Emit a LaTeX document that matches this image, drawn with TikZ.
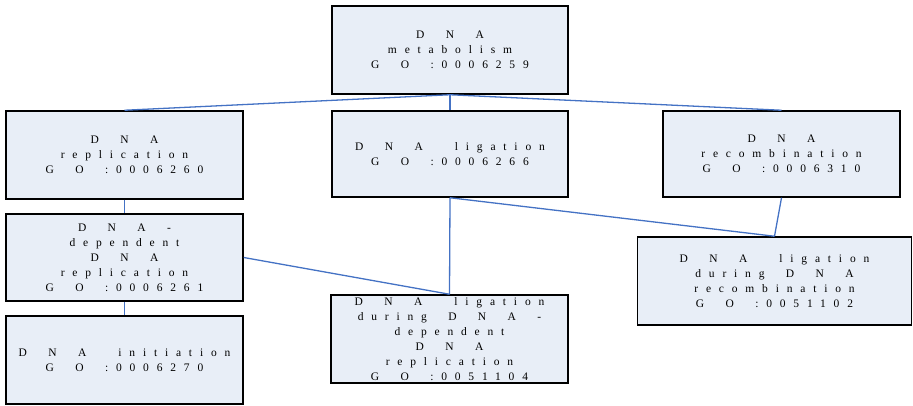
\documentclass[tikz,border=0pt]{standalone}
\usepackage{fontspec}
\setmainfont{Liberation Serif}[LetterSpace=68]
\definecolor{boxfill}{RGB}{232,238,247}
\definecolor{linkblue}{RGB}{68,114,196}
\newcommand\dnaw{D\ \ N\ \ A}
\newcommand\gow{G\ \ O\ \ }
\begin{document}
\begin{tikzpicture}[x=1pt,y=-1pt,
  gobox/.style={draw=black, line width=1.5pt, fill=boxfill, align=center,
    inner sep=0pt, font=\fontsize{11.5}{15}\selectfont},
  link/.style={draw=linkblue, line width=1.3pt}]
\useasboundingbox (0,0) rectangle (913,406);
\node[gobox, minimum width=236, minimum height=88] (top) at (450,50)
  {\dnaw\\metabolism\\\gow:0006259};
\node[gobox, minimum width=237, minimum height=88] (rep) at (124.5,155)
  {\dnaw\\replication\\\gow:0006260};
\node[gobox, minimum width=236, minimum height=86] (lig) at (450,154)
  {\dnaw\ \ \ ligation\\\gow:0006266};
\node[gobox, minimum width=237, minimum height=86] (rec) at (781.5,154)
  {\dnaw\\recombination\\\gow:0006310};
\node[gobox, minimum width=237, minimum height=87] (dep) at (124.5,257.5)
  {\dnaw\ \ -\\dependent\\\dnaw\\replication\\\gow:0006261};
\node[gobox, minimum width=237, minimum height=88] (init) at (124.5,360)
  {\dnaw\ \ \ initiation\\\gow:0006270};
\node[gobox, minimum width=237, minimum height=88] (ldep) at (449.5,339)
  {\dnaw\ \ \ ligation\\during\ \ \dnaw\ \ -\\dependent\\\dnaw\\replication\\\gow:0051104};
\node[gobox, minimum width=274, minimum height=88] (lrec) at (774.5,281)
  {\dnaw\ \ \ ligation\\during\ \ \dnaw\\recombination\\\gow:0051102};
\draw[link] (top.south) -- (rep.north);
\draw[link] (top.south) -- (lig.north);
\draw[link] (top.south) -- (rec.north);
\draw[link] (rep.south) -- (dep.north);
\draw[link] (dep.south) -- (init.north);
\draw[link] (dep.east) -- (ldep.north);
\draw[link] (lig.south) -- (ldep.north);
\draw[link] (lig.south) -- (lrec.north);
\draw[link] (rec.south) -- (lrec.north);
\end{tikzpicture}
\end{document}
